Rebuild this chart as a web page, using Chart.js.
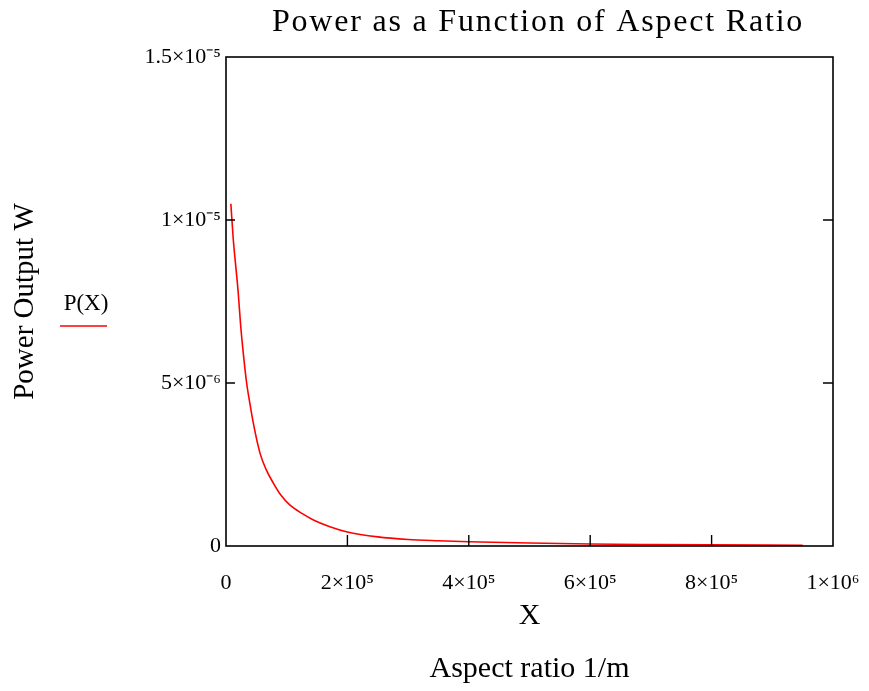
<!DOCTYPE html>
<html>
<head>
<meta charset="utf-8">
<script src="https://cdn.jsdelivr.net/npm/chart.js@4"></script>
<style>
  html, body { margin: 0; padding: 0; background: #fff; }
  #wrap { width: 869px; height: 691px; }
</style>
</head>
<body>
<div id="wrap"><canvas id="powerChart" width="869" height="691"></canvas></div>
<script>
// values
const aspectRatio = [8000, 12000, 16000, 20000, 24000, 28000, 34000, 40000, 45000, 56000, 66000, 78000,
  90000, 105000, 125000, 144000, 170000, 200000, 250000, 300000, 350000, 400000, 500000,
  600000, 700000, 800000, 950000];
const powerOut = [1.05e-5, 9.4e-6, 8.6e-6, 7.8e-6, 6.8e-6, 6.0e-6, 5.0e-6, 4.3e-6, 3.77e-6, 2.85e-6, 2.35e-6, 1.93e-6,
  1.57e-6, 1.26e-6, 1.0e-6, 0.8e-6, 0.6e-6, 0.43e-6, 0.28e-6, 0.2e-6, 0.16e-6, 0.13e-6, 0.09e-6,
  0.06e-6, 0.045e-6, 0.035e-6, 0.025e-6];

const chartTitle = 'Power as a Function of Aspect Ratio';
const yTickLabels = ['0', '5×10⁻⁶', '1×10⁻⁵', '1.5×10⁻⁵'];
const xTickLabels = ['0', '2×10⁵', '4×10⁵', '6×10⁵', '8×10⁵', '1×10⁶'];
const yInnerTicks = [5e-6, 1e-5];
const xInnerTicks = [2e5, 4e5, 6e5, 8e5];

const serif = 'Liberation Serif';

// title, frame, inward tick marks and the P(X) legend
const framePlugin = {
  id: 'frame',
  afterDraw(chart) {
    const ctx = chart.ctx;
    const a = chart.chartArea;
    const xs = chart.scales.x, ys = chart.scales.y;
    ctx.save();
    ctx.strokeStyle = '#000';
    ctx.lineWidth = 1.6;
    ctx.strokeRect(a.left, a.top, a.right - a.left, a.bottom - a.top);
    ctx.lineWidth = 1.4;
    ctx.beginPath();
    yInnerTicks.forEach(v => {
      const y = ys.getPixelForValue(v);
      ctx.moveTo(a.left, y); ctx.lineTo(a.left + 9, y);
      ctx.moveTo(a.right, y); ctx.lineTo(a.right - 10, y);
    });
    xInnerTicks.forEach(v => {
      const x = xs.getPixelForValue(v);
      ctx.moveTo(x, a.bottom); ctx.lineTo(x, a.bottom - 11);
    });
    ctx.stroke();

    ctx.fillStyle = '#000';
    ctx.textAlign = 'center';
    ctx.textBaseline = 'middle';

    // title
    ctx.font = '32px "' + serif + '"';
    ctx.letterSpacing = '1.8px';
    ctx.fillText(chartTitle, 538, 23);
    ctx.letterSpacing = '0px';

    // legend
    ctx.font = '23px "' + serif + '"';
    ctx.fillText('P(X)', 86, 304);
    ctx.strokeStyle = '#ff0000';
    ctx.lineWidth = 1.5;
    ctx.beginPath();
    ctx.moveTo(60, 326); ctx.lineTo(107, 326);
    ctx.stroke();
    ctx.restore();
  }
};

const ctx = document.getElementById('powerChart').getContext('2d');

const powerChart = new Chart(ctx, {
  type: 'scatter',
  data: {
    datasets: [{
      label: 'P(X)',
      data: aspectRatio.map((x, i) => ({ x: x, y: powerOut[i] })),
      showLine: true,
      borderColor: '#ff0000',
      borderWidth: 1.6,
      pointRadius: 0,
      cubicInterpolationMode: 'monotone',
      fill: false
    }]
  },
  options: {
    responsive: false,
    animation: false,
    maintainAspectRatio: false,
    layout: { padding: { top: 57, right: 36, bottom: 0, left: 0 } },
    plugins: {
      legend: { display: false },
      tooltip: { enabled: false },
      title: { display: false }
    },
    scales: {
      x: {
        type: 'linear',
        min: 0,
        max: 1e6,
        grid: { display: false, drawTicks: false },
        border: { display: false },
        afterFit(scale) {
          scale.height = 145;
          scale.paddingLeft = 0;
          scale.paddingRight = 0;
        },
        ticks: {
          stepSize: 2e5,
          padding: 24,
          color: '#000',
          maxRotation: 0,
          font: { family: serif, size: 22 },
          callback: (v, i) => xTickLabels[i]
        },
        title: {
          display: true,
          text: ['X', 'Aspect ratio 1/m'],
          color: '#000',
          font: { family: serif, size: 30, lineHeight: 1.77 },
          padding: { top: 0, bottom: -5 }
        }
      },
      y: {
        min: 0,
        max: 1.5e-5,
        grid: { display: false, drawTicks: false },
        border: { display: false },
        afterFit(scale) {
          scale.width = 226;
          scale.paddingTop = 0;
          scale.paddingBottom = 0;
        },
        ticks: {
          stepSize: 5e-6,
          padding: 5,
          color: '#000',
          font: { family: serif, size: 22 },
          callback: (v, i) => yTickLabels[i]
        },
        title: {
          display: true,
          text: 'Power Output W',
          color: '#000',
          font: { family: serif, size: 29 },
          padding: { top: 8, bottom: 0 }
        }
      }
    }
  },
  plugins: [framePlugin]
});
</script>
</body>
</html>
